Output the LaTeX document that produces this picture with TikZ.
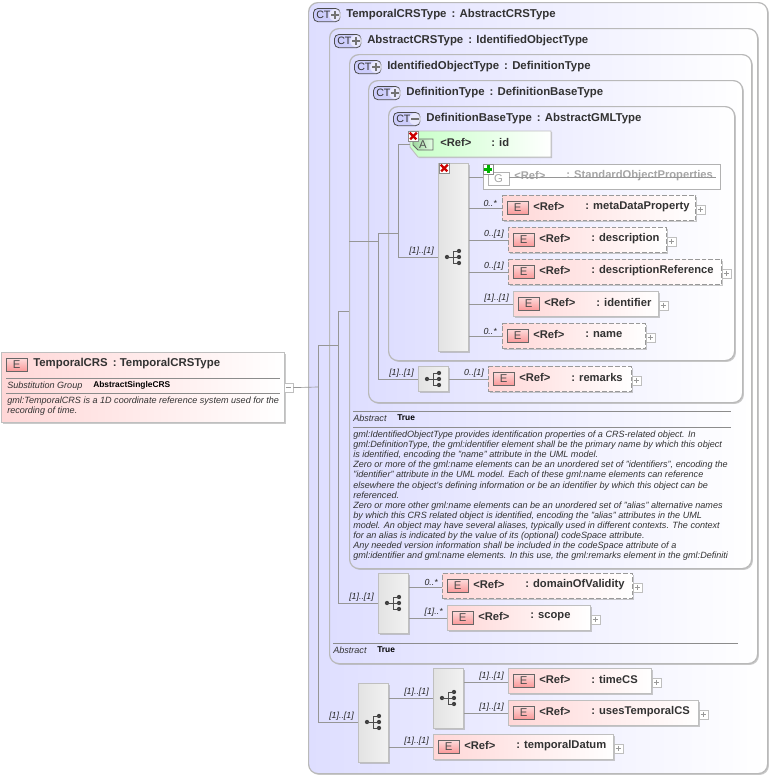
\documentclass[tikz,border=0pt]{standalone}
\usepackage{fontspec}
\setmainfont{Liberation Sans}
\usetikzlibrary{positioning, shadows, backgrounds}
\definecolor{ctblue}{RGB}{222,222,255}
\definecolor{ctbadgecol}{RGB}{205,205,252}
\definecolor{ctline}{RGB}{185,185,185}
\definecolor{elpink}{RGB}{255,215,215}
\definecolor{badgered}{RGB}{250,150,150}
\definecolor{wirecol}{RGB}{150,150,150}
\definecolor{inkcol}{RGB}{50,50,50}
\tikzset{
  x=0.75pt, y=-0.75pt,
  wire/.style={draw=wirecol, line width=0.5pt},
  softshadow/.style={general shadow={shadow xshift=1pt, shadow yshift=-1pt, fill=black!35, opacity=.6}},
  ctbox/.style={draw=ctline, line width=0.9pt, rounded corners=7pt, left color=ctblue, right color=white, anchor=north west, inner sep=0pt},
  ctbadge/.style={draw=black!70, line width=0.6pt, rounded corners=3.5pt, fill=ctbadgecol, anchor=north west, inner sep=0pt, minimum width=20pt, minimum height=10pt},
  cttext/.style={anchor=west, inner sep=0pt, font=\bfseries\fontsize{8.55}{10}\selectfont, text=inkcol},
  elembox/.style={draw=black!25, line width=1pt, left color=elpink, right color=white, anchor=north west, inner sep=0pt, softshadow},
  optbox/.style={elembox, draw=black!40, dash pattern=on 3.5pt off 1.5pt},
  badge/.style={draw=black!60, line width=0.6pt, top color=badgered!35, bottom color=badgered, anchor=north west, inner sep=0pt, minimum width=15.5pt, minimum height=10pt, font=\fontsize{8.5}{9}\selectfont, text=black!70},
  reftext/.style={anchor=west, inner sep=0pt, font=\bfseries\fontsize{8.4}{10}\selectfont, text=inkcol},
  expander/.style={draw=black!25, fill=white, line width=0.4pt, anchor=north west, inner sep=0pt, minimum size=6.5pt},
  seqbox/.style={draw=black!25, line width=0.7pt, left color=black!11, right color=black!5, anchor=north west, inner sep=0pt, softshadow},
  occur/.style={anchor=south east, inner sep=0pt, font=\itshape\fontsize{6.6}{8}\selectfont, text=black!85},
  markbox/.style={draw=black!45, fill=white, line width=0.4pt, anchor=north west, inner sep=0pt, minimum size=7.5pt},
  smalltext/.style={anchor=west, inner sep=0pt, font=\itshape\fontsize{6.8}{7.6}\selectfont, text=inkcol},
  smallbold/.style={anchor=west, inner sep=0pt, font=\bfseries\fontsize{6.3}{7}\selectfont, text=black},
  rulecol/.style={draw=black!45, line width=0.4pt},
}
% #1 name, #2 style, #3 x, #4 y, #5 width, #6 label
\newcommand{\elemnode}[6]{
  \node[#2, minimum width=#5*0.75pt, minimum height=18.75pt] (#1) at (#3,#4) {};
  \node[badge] (#1b) at (#3+5,#4+6) {E};
  \node[reftext] (#1r) at (#3+31,#4+11.5) {<Ref>};
  \node[reftext] (#1l) at (#3+83,#4+11.5) {: #6};
  \node[expander] (#1p) at (#3+#5+1,#4+10) {};
  \draw[black!40, line width=0.4pt] (#1p.west)++(1.2pt,0) -- ++(4.1pt,0) (#1p.north)++(0,-1.2pt) -- ++(0,-4.1pt);
}
% #1 name, #2 x, #3 y, #4 width, #5 height, #6 sign drawn in the badge, #7 title
\newcommand{\ctnode}[7]{
  \node[ctbox, softshadow, minimum width=#4*0.75pt, minimum height=#5*0.75pt] (#1) at (#2,#3) {};
  \node[ctbadge] (#1b) at (#2+5,#3+6) {};
  \node[anchor=west, inner sep=0pt, font=\fontsize{8}{9}\selectfont, text=black!80] (#1c) at (#2+8,#3+13) {CT};
  \fill[white, opacity=.55] (#2+27,#3+13) circle (4.4pt);
  \draw[black!55, line width=1.5pt] #6;
  \node[cttext] (#1t) at (#2+38,#3+12.5) {#7};
}
\newcommand{\plussign}[2]{(#1+23,#2+13) -- (#1+31,#2+13) (#1+27,#2+9) -- (#1+27,#2+17)}
\newcommand{\minussign}[2]{(#1+23,#2+13) -- (#1+31,#2+13)}
% #1 name, #2 x, #3 y: tree icon for a sequence
\newcommand{\seqicon}[3]{
  \coordinate (#1) at (#2,#3);
  \fill[black!75] (#2-6,#3) circle (1.6pt) (#2+6,#3-6) circle (1.6pt) (#2+6,#3) circle (1.6pt) (#2+6,#3+6) circle (1.6pt);
  \draw[black!70, line width=0.6pt] (#2-6,#3) -- (#2+6,#3) (#2+6,#3-6) -- (#2,#3-6) -- (#2,#3+6) -- (#2+6,#3+6);
}
\newcommand{\crossmark}[3]{
  \node[markbox] (#1) at (#2,#3) {};
  \draw[red!80!black, line width=1.8pt] (#1.north west)++(1.3pt,-1.3pt) -- ++(4.9pt,-4.9pt) (#1.north east)++(-1.3pt,-1.3pt) -- ++(-4.9pt,-4.9pt);
}

\begin{document}
\begin{tikzpicture}
  \useasboundingbox (0,0) rectangle (770,776);

  % nested type boxes
  \ctnode{temporaltype}{308}{2}{459}{771}{\plussign{308}{2}}{TemporalCRSType\, : AbstractCRSType}
  \ctnode{crstype}{329}{28}{428}{635}{\plussign{329}{28}}{AbstractCRSType\, : IdentifiedObjectType}
  \ctnode{identtype}{349}{54}{402}{514}{\plussign{349}{54}}{IdentifiedObjectType\, : DefinitionType}
  \ctnode{deftype}{368}{80}{374}{322}{\plussign{368}{80}}{DefinitionType\, : DefinitionBaseType}
  \ctnode{basetype}{388}{106}{346}{254}{\minussign{388}{106}}{DefinitionBaseType\, : AbstractGMLType}

  % root element
  \node[elembox, minimum width=212.25pt, minimum height=52.5pt] (root) at (1,352) {};
  \node[badge] (rootb) at (6,358) {E};
  \node[cttext] (roott) at (33,363.5) {TemporalCRS\, : TemporalCRSType};
  \draw[rulecol] (6,378) -- (280,378) (6,393) -- (280,393);
  \node[smalltext] (rootsub) at (7,386) {Substitution Group};
  \node[smallbold] (rootsubv) at (93,385) {AbstractSingleCRS};
  \node[smalltext, align=left, anchor=north west] (rootdoc) at (7,397) {gml:TemporalCRS is a 1D coordinate reference system used for the\\recording of time.};
  \node[expander] (rootm) at (284,383) {};
  \draw[black!40, line width=0.4pt] (rootm.west)++(1.2pt,0) -- ++(4.1pt,0);

  % sequences
  \node[seqbox, minimum width=22.5pt, minimum height=141pt] (seqa) at (438,163) {};
  \node[seqbox, minimum width=22.5pt, minimum height=18.75pt] (seqb) at (418,366) {};
  \node[seqbox, minimum width=22.5pt, minimum height=45pt] (seqc) at (378,573) {};
  \node[seqbox, minimum width=22.5pt, minimum height=59.25pt] (seqd) at (358,683) {};
  \node[seqbox, minimum width=22.5pt, minimum height=45pt] (seqe) at (433,668) {};
  \seqicon{icona}{453}{257}
  \seqicon{iconb}{433}{379}
  \seqicon{iconc}{393}{603}
  \seqicon{icond}{373}{722}
  \seqicon{icone}{448}{698}

  % attribute id
  \fill[black!35, opacity=.6] (411,132) -- (552,132) -- (552,158) -- (419,158) -- (411,148) -- cycle;
  \path[draw=black!25, line width=0.7pt, left color=green!22, right color=white] (410,131) -- (551,131) -- (551,157) -- (418,157) -- (410,147) -- cycle;
  \node[anchor=north west, inner sep=0pt, minimum width=105.75pt, minimum height=19.5pt] (idbox) at (410,131) {};
  \path[draw=black!60, line width=0.6pt, left color=green!40!gray!55, right color=green!10] (413,139) -- (433,139) -- (433,150) -- (418,150) -- (413,145) -- cycle;
  \node[inner sep=0pt, font=\fontsize{8.5}{9}\selectfont, text=black!70] (idb) at (423,145) {A};
  \node[reftext] (idr) at (440,142.5) {<Ref>};
  \node[reftext] (idl) at (491,142.5) {: id};
  \crossmark{idx}{408}{131}
  \crossmark{seqx}{439}{163}

  % group
  \node[draw=black!30, fill=white, line width=0.7pt, anchor=north west, inner sep=0pt, minimum width=177.75pt, minimum height=18.75pt] (grp) at (483,164) {};
  \node[draw=black!30, fill=white, inner sep=0pt, anchor=north west, minimum width=15.5pt, minimum height=10pt, font=\fontsize{8.5}{9}\selectfont, text=black!35] (grpb) at (488,172) {G};
  \node[reftext, text=black!35] (grpr) at (514,175.5) {<Ref>};
  \node[reftext, text=black!35] (grpl) at (566,175.5) {: StandardObjectProperties};
  \draw[wire] (grpb.east |- 0,177) -- (716,177);
  \node[markbox] (grpp) at (483,164) {};
  \draw[green!70!black, line width=1.9pt] (grpp.west)++(1pt,0) -- ++(5.5pt,0) (grpp.north)++(0,-1pt) -- ++(0,-5.5pt);

  % elements
  \elemnode{metadata}{optbox}{502}{195}{193}{metaDataProperty}
  \elemnode{descr}{optbox}{508}{227}{158}{description}
  \elemnode{descrref}{optbox}{508}{259}{213}{descriptionReference}
  \elemnode{ident}{elembox}{513}{291}{145}{identifier}
  \elemnode{namee}{optbox}{502}{323}{143}{name}
  \elemnode{remarks}{optbox}{488}{366}{143}{remarks}
  \elemnode{domain}{optbox}{442}{573}{190}{domainOfValidity}
  \elemnode{scopee}{elembox}{447}{605}{143}{scope}
  \elemnode{timecs}{elembox}{508}{668}{143}{timeCS}
  \elemnode{usescs}{elembox}{508}{700}{190}{usesTemporalCS}
  \elemnode{datum}{elembox}{433}{734}{180}{temporalDatum}

  % documentation
  \draw[rulecol] (353,411) -- (731,411) (353,427) -- (731,427);
  \node[smalltext] (abs) at (353,418.5) {Abstract};
  \node[smallbold] (absv) at (397,418) {True};
  \node[smalltext, anchor=north west, align=left] (absdoc) at (353,430.5) {gml:IdentifiedObjectType provides identification properties of a CRS-related object. In\\
    gml:DefinitionType, the gml:identifier element shall be the primary name by which this object\\
    is identified, encoding the "name" attribute in the UML model.\\
    Zero or more of the gml:name elements can be an unordered set of "identifiers", encoding the\\
    "identifier" attribute in the UML model. Each of these gml:name elements can reference\\
    elsewhere the object's defining information or be an identifier by which this object can be\\
    referenced.\\
    Zero or more other gml:name elements can be an unordered set of "alias" alternative names\\
    by which this CRS related object is identified, encoding the "alias" attributes in the UML\\
    model. An object may have several aliases, typically used in different contexts. The context\\
    for an alias is indicated by the value of its (optional) codeSpace attribute.\\
    Any needed version information shall be included in the codeSpace attribute of a\\
    gml:identifier and gml:name elements. In this use, the gml:remarks element in the gml:Definiti};
  \draw[rulecol] (333,643) -- (738,643);
  \node[smalltext] (absb) at (333,650.5) {Abstract};
  \node[smallbold] (absbv) at (377,650) {True};

  % connectors
  \coordinate (rootj) at (318,387);
  \draw[wire] (rootm.east) -- (rootj);
  \draw[wire] (318,345) -- (318,722) -- (seqd.west |- icond);
  \draw[wire] (318,345) -- (338,345);
  \draw[wire] (338,311) -- (338,603) -- (seqc.west |- iconc);
  \draw[wire] (338,311) -- (identtype.west |- 0,311);
  \draw[wire] (identtype.west |- 0,241) -- (378,241);
  \draw[wire] (378,233) -- (378,379) -- (seqb.west |- iconb);
  \draw[wire] (378,233) -- (398,233);
  \draw[wire] (398,144) -- (398,257) -- (seqa.west |- icona);
  \draw[wire] (398,144) -- (idbox.west |- 0,144);
  \draw[wire] (seqa.east |- 0,177) -- (grp.west |- 0,177);
  \draw[wire] (seqa.east |- 0,208) -- (metadata.west |- 0,208);
  \draw[wire] (seqa.east |- 0,240) -- (descr.west |- 0,240);
  \draw[wire] (seqa.east |- 0,272) -- (descrref.west |- 0,272);
  \draw[wire] (seqa.east |- 0,304) -- (ident.west |- 0,304);
  \draw[wire] (seqa.east |- 0,336) -- (namee.west |- 0,336);
  \draw[wire] (seqb.east |- iconb) -- (remarks.west |- iconb);
  \draw[wire] (seqc.east |- 0,587) -- (domain.west |- 0,587);
  \draw[wire] (seqc.east |- 0,618) -- (scopee.west |- 0,618);
  \draw[wire] (seqd.east |- 0,698) -- (seqe.west |- 0,698);
  \draw[wire] (seqd.east |- 0,747) -- (datum.west |- 0,747);
  \draw[wire] (seqe.east |- 0,682) -- (timecs.west |- 0,682);
  \draw[wire] (seqe.east |- 0,713) -- (usescs.west |- 0,713);

  % occurrences
  \node[occur] (oa) at (434,256) {[1]..[1]};
  \node[occur] (ob) at (414,378) {[1]..[1]};
  \node[occur] (oc) at (374,602) {[1]..[1]};
  \node[occur] (od) at (354,721) {[1]..[1]};
  \node[occur] (oe) at (429,697) {[1]..[1]};
  \node[occur] (of) at (429,746) {[1]..[1]};
  \node[occur] (og) at (504,681) {[1]..[1]};
  \node[occur] (oh) at (504,712) {[1]..[1]};
  \node[occur] (oi) at (497,207) {0..*};
  \node[occur] (oj) at (504,239) {0..[1]};
  \node[occur] (ok) at (504,271) {0..[1]};
  \node[occur] (ol) at (509,303) {[1]..[1]};
  \node[occur] (om) at (497,335) {0..*};
  \node[occur] (on) at (484,378) {0..[1]};
  \node[occur] (oo) at (438,586) {0..*};
  \node[occur] (op) at (443,617) {[1]..*};
\end{tikzpicture}
\end{document}
